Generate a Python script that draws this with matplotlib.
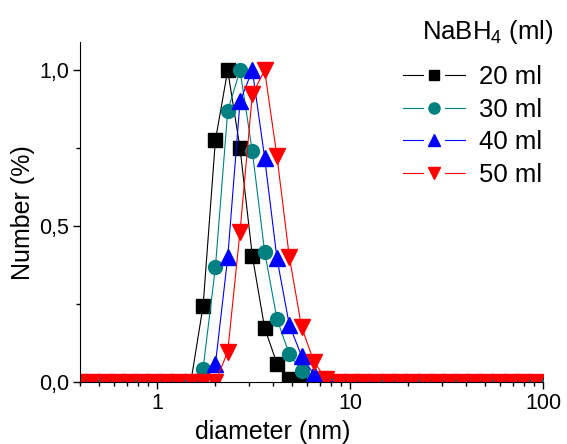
import matplotlib
matplotlib.use("Agg")
import numpy as np
import matplotlib.pyplot as plt
from matplotlib.legend_handler import HandlerLine2D
from matplotlib.ticker import FixedLocator, FuncFormatter, LogLocator, NullFormatter

plt.rcParams['font.family'] = ['Liberation Sans', 'DejaVu Sans']
plt.rcParams['mathtext.fontset'] = 'custom'
plt.rcParams['mathtext.rm'] = 'Liberation Sans'

# Zetasizer size bins (nm)
diameter = [0.4, 0.4632, 0.5365, 0.6213, 0.7195, 0.8332, 0.9649, 1.117, 1.294, 1.499,
            1.736, 2.010, 2.328, 2.696, 3.122, 3.615, 4.187, 4.849, 5.615, 6.503,
            7.531, 8.721, 10.10, 11.70, 13.54, 15.69, 18.17, 21.04, 24.36, 28.21,
            32.67, 37.84, 43.82, 50.75, 58.77, 68.06, 78.82, 91.28]

z = [0.0] * 10
tail = [0.0] * 17
ml20 = z + [0.245, 0.775, 1.0, 0.75, 0.405, 0.174, 0.06, 0.012, 0.004, 0.0, 0.0] + tail
ml30 = z + [0.044, 0.368, 0.87, 1.0, 0.74, 0.418, 0.203, 0.09, 0.037, 0.01, 0.0] + tail
ml40 = z + [0.0, 0.058, 0.40, 0.90, 1.0, 0.72, 0.397, 0.184, 0.084, 0.025, 0.01] + tail
ml50 = z + [0.0, 0.0, 0.098, 0.483, 0.923, 1.0, 0.724, 0.403, 0.177, 0.066, 0.01] + tail

labels = ["20 ml", "30 ml", "40 ml", "50 ml"]


class GapLine(HandlerLine2D):
    # Origin-style legend symbol: line broken around the marker
    def create_artists(self, legend, orig_handle, xdescent, ydescent, width, height, fontsize, trans):
        arts = super().create_artists(legend, orig_handle, xdescent, ydescent, width, height, fontsize, trans)
        line = arts[0]
        xd, yd = line.get_data()
        x0, x1 = xd[0], xd[-1]
        mid = (x0 + x1) / 2
        gap = 0.18 * (x1 - x0)
        y = yd[0]
        line.set_data([x0, mid - gap, np.nan, mid, np.nan, mid + gap, x1], [y] * 7)
        line.set_markevery([3])
        return arts


fig = plt.figure(figsize=(5.67, 4.44), dpi=100)
ax = fig.add_axes([0.141, 0.139, 0.817, 0.766])

ax.plot(diameter, ml20, color="black", lw=0.8, marker="s", ms=9.5, label=labels[0])
ax.plot(diameter, ml30, color="#008080", lw=0.8, marker="o", ms=10, label=labels[1])
ax.plot(diameter, ml40, color="blue", lw=0.8, marker="^", ms=11, label=labels[2])
ax.plot(diameter, ml50, color="red", lw=0.8, marker="v", ms=11, label=labels[3])

ax.set_xscale("log")
ax.set_xlim(0.4, 100)
ax.set_ylim(0, 1.09)

ax.yaxis.set_major_locator(FixedLocator([0, 0.5, 1.0]))
ax.yaxis.set_minor_locator(FixedLocator([0.25, 0.75]))
ax.yaxis.set_major_formatter(FuncFormatter(lambda v, p: f"{v:.1f}".replace(".", ",")))
ax.xaxis.set_major_formatter(FuncFormatter(lambda v, p: f"{v:g}"))
ax.xaxis.set_minor_locator(LogLocator(base=10, subs=range(2, 10)))
ax.xaxis.set_minor_formatter(NullFormatter())

ax.spines['top'].set_visible(False)
ax.spines['right'].set_visible(False)
ax.tick_params(which="major", direction="out", length=5, width=1, labelsize=15.5, pad=3)
ax.tick_params(which="minor", direction="out", length=3, width=1)

ax.set_xlabel("diameter (nm)", fontsize=18)
ax.xaxis.set_label_coords(0.417, -0.11)
ax.set_ylabel("Number (%)", fontsize=18, labelpad=3)

fig.text(0.977, 0.912, "NaBH$_4$ (ml)", fontsize=18.5, ha="right", va="baseline")
ax.legend(loc="upper left", bbox_to_anchor=(0.711, 0.853), bbox_transform=fig.transFigure,
          frameon=False, fontsize=18.5, handlelength=2.4, handletextpad=0.55,
          labelspacing=0.33, markerscale=0.8, borderpad=0, borderaxespad=0,
          handler_map={plt.Line2D: GapLine(numpoints=1)})

fig.savefig("out.png", dpi=100)
